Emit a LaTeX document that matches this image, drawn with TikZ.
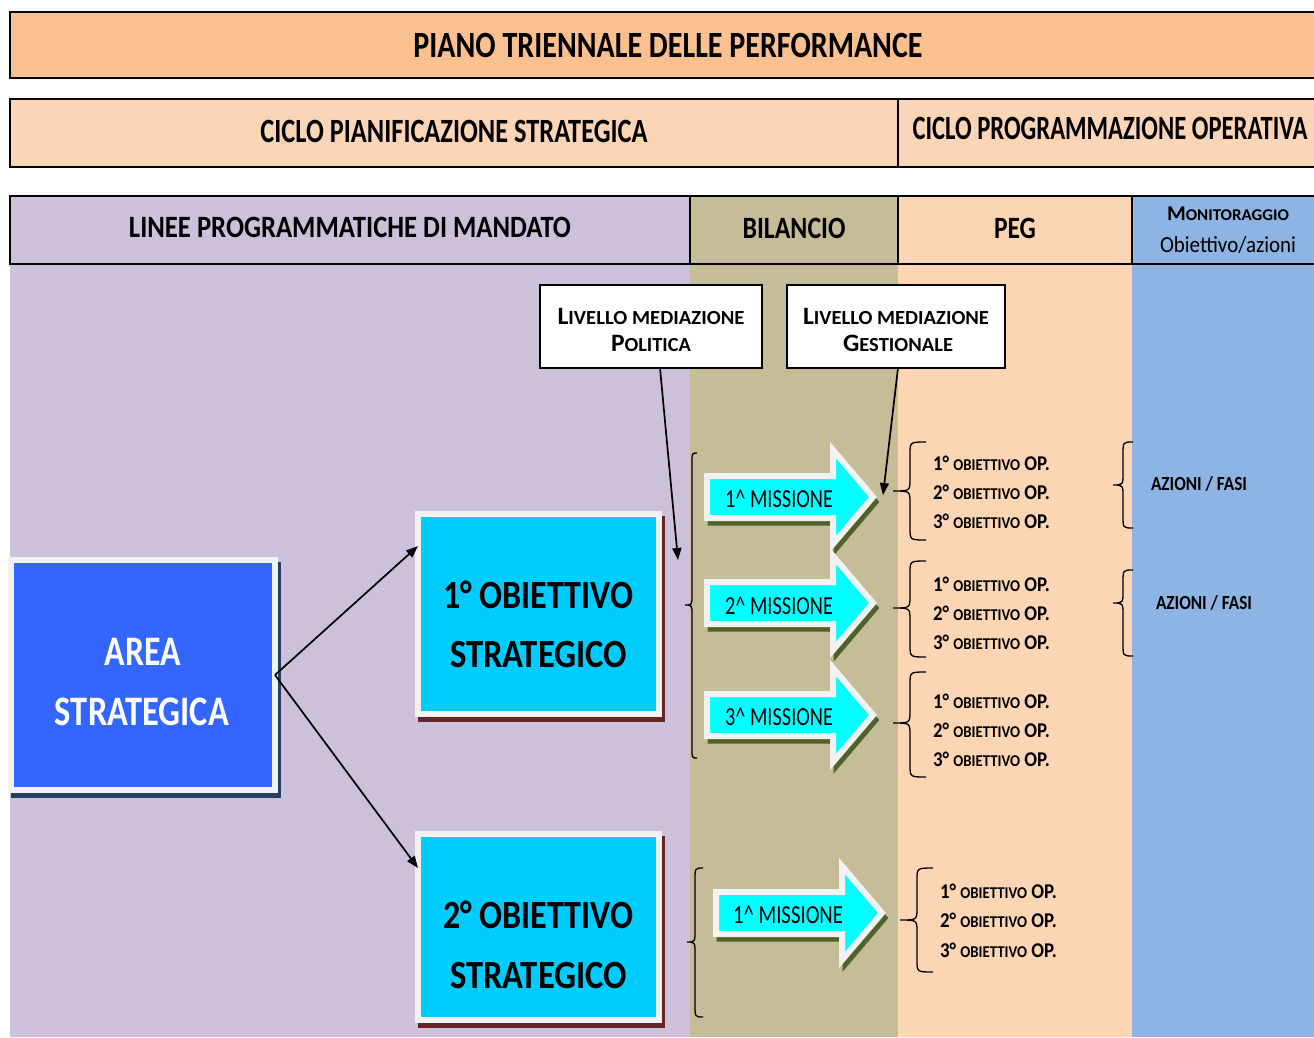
\documentclass[tikz,border=0pt]{standalone}
\usepackage{fontspec}
\setmainfont{Carlito}
\usetikzlibrary{arrows.meta,shadows}
\definecolor{cTitle}{HTML}{FAC090}
\definecolor{cRow}{HTML}{FBD5B5}
\definecolor{cPurp}{HTML}{CCC0DA}
\definecolor{cOlive}{HTML}{C4BD97}
\definecolor{cPeach}{HTML}{FCD5B4}
\definecolor{cBlue}{HTML}{8DB4E2}
\definecolor{cArea}{HTML}{3366FF}
\definecolor{cObj}{HTML}{00CCFF}
\definecolor{cMis}{HTML}{00FFFF}
\definecolor{cFrame}{HTML}{F2F2F2}
\definecolor{cObjSh}{HTML}{632523}
\definecolor{cAreaSh}{HTML}{243F60}
\definecolor{cMisSh}{HTML}{4F6228}
% text fitted to a width (pt), at a size (pt)
\newcommand\fw[3]{\resizebox{#1pt}{\height}{\fontsize{#2}{#2}\selectfont #3}}
\newcommand\scp[2]{{\fontsize{#1}{#1}\selectfont #2}}
% manual curly brace opening to the right: x, ytop, ybot, ytip, depth, tip, curve
\newcommand\mybrace[7]{\draw[brc] (#1,#2) .. controls ({#1-#5},#2) .. ({#1-#5},{#2+#7}) -- ({#1-#5},{#4-#7}) .. controls ({#1-#5},#4) .. ({#1-#5-#6},#4) .. controls ({#1-#5},#4) .. ({#1-#5},{#4+#7}) -- ({#1-#5},{#3-#7}) .. controls ({#1-#5},#3) .. (#1,#3);}
% mission block arrow: x0, yc
\newcommand\misarrow[2]{%
 \path[misshadow,shift={(3,5)}] (#1,{#2-21}) -- ({#1+126},{#2-21}) -- ({#1+126},{#2-47}) -- ({#1+166},#2) -- ({#1+126},{#2+47}) -- ({#1+126},{#2+21}) -- (#1,{#2+21}) -- cycle;
 \path[misframe] (#1,{#2-21}) -- ({#1+126},{#2-21}) -- ({#1+126},{#2-47}) -- ({#1+166},#2) -- ({#1+126},{#2+47}) -- ({#1+126},{#2+21}) -- (#1,{#2+21}) -- cycle;}
\begin{document}
\begin{tikzpicture}[x=1pt,y=-1pt,
 cell/.style={draw=black, line width=2pt, inner sep=0pt, outer sep=0pt},
 txt/.style={inner sep=0pt, outer sep=0pt},
 lvbox/.style={draw=black, line width=1.5pt, fill=white, inner sep=0pt, outer sep=0pt},
 objbox/.style={fill=cObj, draw=cFrame, line width=6pt, inner sep=0pt, outer sep=0pt,
   general shadow={fill=cObjSh, draw=cObjSh, line width=6pt, shadow xshift=3pt, shadow yshift=-5pt}},
 areabox/.style={fill=cArea, draw=cFrame, line width=6pt, inner sep=0pt, outer sep=0pt,
   general shadow={fill=cAreaSh, draw=cAreaSh, line width=6pt, shadow xshift=3pt, shadow yshift=-5pt}},
 conn/.style={line width=1.7pt, -{Triangle[length=12pt,width=9pt]}},
 brc/.style={line width=1.3pt},
 misframe/.style={fill=cMis, draw=cFrame, line width=6pt},
 misshadow/.style={fill=cMisSh, draw=cMisSh, line width=5pt}]
\useasboundingbox (0,0) rectangle (1314,1037);
\fill[white] (0,0) rectangle (1314,1037);
% body columns
\fill[cPurp] (10,264) rectangle (690,1037);
\fill[cOlive] (690,264) rectangle (898,1037);
\fill[cPeach] (898,264) rectangle (1132,1037);
\fill[cBlue] (1132,264) rectangle (1320,1037);
% title rows
\node[cell, fill=cTitle, minimum width=1316pt, minimum height=66pt] (title) at (668,45)
  {\fw{509}{37}{\bfseries PIANO TRIENNALE DELLE PERFORMANCE}};
\node[cell, line width=1.5pt, fill=cRow, minimum width=888pt, minimum height=68pt, text depth=4pt] (cps) at (454,133)
  {\fw{387}{34}{\bfseries CICLO PIANIFICAZIONE STRATEGICA}};
\node[cell, line width=1.5pt, fill=cRow, minimum width=424pt, minimum height=68pt] (cpo) at (1110,133) {};
\node[txt] (cpot) at (1110,128) {\fw{395}{34}{\bfseries CICLO PROGRAMMAZIONE OPERATIVA}};
% column headers
\node[cell, fill=cPurp, minimum width=680pt, minimum height=68pt, text depth=6pt] (linee) at (350,230)
  {\fw{442}{31}{\bfseries LINEE PROGRAMMATICHE DI MANDATO}};
\node[cell, fill=cOlive, minimum width=208pt, minimum height=68pt, text depth=4pt] (bil) at (794,230)
  {\fw{103}{31}{\bfseries BILANCIO}};
\node[cell, fill=cPeach, minimum width=234pt, minimum height=68pt, text depth=4pt] (peg) at (1015,230)
  {\fw{42}{31}{\bfseries PEG}};
\node[cell, fill=cBlue, minimum width=192pt, minimum height=68pt] (mon) at (1228,230) {};
\node[txt, anchor=base] (mon1) at (1228,220) {\fw{122}{21}{\bfseries M\scp{16.5}{ONITORAGGIO}}};
\node[txt, anchor=base] (mon2) at (1228,252) {\fw{136}{23}{Obiettivo/azioni}};
% mediation boxes
\node[lvbox, minimum width=222pt, minimum height=83pt] (pol) at (651,326.5) {};
\node[txt, anchor=base] (pol1) at (651,324.5) {\fw{187}{25}{\bfseries L\scp{20}{IVELLO MEDIAZIONE}}};
\node[txt, anchor=base] (pol2) at (651,351.5) {\fw{80}{25}{\bfseries P\scp{20}{OLITICA}}};
\node[lvbox, minimum width=218pt, minimum height=83pt] (gest) at (896,326.5) {};
\node[txt, anchor=base] (gest1) at (896,324.5) {\fw{186}{25}{\bfseries L\scp{20}{IVELLO MEDIAZIONE}}};
\node[txt, anchor=base] (gest2) at (898,351.5) {\fw{110}{25}{\bfseries G\scp{20}{ESTIONALE}}};
% area strategica
\node[areabox, minimum width=264pt, minimum height=230pt] (area) at (143,675) {};
\node[txt, anchor=base, text=white] (area1) at (143,665) {\fw{76}{42}{\bfseries AREA}};
\node[txt, anchor=base, text=white] (area2) at (142,725) {\fw{174}{42}{\bfseries STRATEGICA}};
% strategic objectives
\node[objbox, minimum width=241pt, minimum height=200pt] (obj1) at (538.5,614) {};
\node[txt, anchor=base] (obj1a) at (538,608) {\fw{190}{40}{\bfseries 1° OBIETTIVO}};
\node[txt, anchor=base] (obj1b) at (538.5,667) {\fw{177}{40}{\bfseries STRATEGICO}};
\node[objbox, minimum width=241pt, minimum height=186pt] (obj2) at (538.5,927) {};
\node[txt, anchor=base] (obj2a) at (538,928) {\fw{190}{40}{\bfseries 2° OBIETTIVO}};
\node[txt, anchor=base] (obj2b) at (538.5,988) {\fw{177}{40}{\bfseries STRATEGICO}};
% connectors
\coordinate (polend) at (678,560);
\coordinate (gestend) at (883,495);
\draw[conn] (area.east) -- ([yshift=-32pt]obj1.north west);
\draw[conn] (area.east) -- ([yshift=-34pt]obj2.north west);
% mission arrows
\misarrow{707}{497}
\misarrow{707}{603}
\misarrow{707}{715}
\misarrow{716}{913}
\node[txt, anchor=base] (m1) at (779,507) {\fw{108}{26}{1\textasciicircum{} MISSIONE}};
\node[txt, anchor=base] (m2) at (779,614) {\fw{108}{26}{2\textasciicircum{} MISSIONE}};
\node[txt, anchor=base] (m3) at (779,725) {\fw{108}{26}{3\textasciicircum{} MISSIONE}};
\node[txt, anchor=base] (m4) at (788,923) {\fw{110}{26}{1\textasciicircum{} MISSIONE}};
\draw[conn] ([xshift=9pt]pol.south) -- (polend);
\draw[conn] ([xshift=2pt]gest.south) -- (gestend);
% braces
\mybrace{697}{453}{758}{605}{5}{7}{10}
\mybrace{703}{868}{1017}{942}{8}{8}{12}
\mybrace{926}{442}{540}{491}{16}{17}{12}
\mybrace{926}{561}{657}{608}{16}{17}{12}
\mybrace{926}{672}{777}{723}{16}{17}{12}
\mybrace{933}{868}{972}{920}{16}{17}{12}
\mybrace{1133}{442}{528}{485}{10}{10}{12}
\mybrace{1133}{570}{656}{603}{10}{10}{12}
% operational objectives
\foreach \n/\yy in {a/470.5,b/591.5,c/708.5}{
  \node[txt, anchor=base west] (op\n1) at (933,\yy) {\fw{117}{21}{\bfseries 1° \scp{16.5}{OBIETTIVO} OP.}};
  \node[txt, anchor=base west] (op\n2) at (933,\yy+29) {\fw{117}{21}{\bfseries 2° \scp{16.5}{OBIETTIVO} OP.}};
  \node[txt, anchor=base west] (op\n3) at (933,\yy+58) {\fw{117}{21}{\bfseries 3° \scp{16.5}{OBIETTIVO} OP.}};
}
\node[txt, anchor=base west] (opd1) at (940,898.5) {\fw{117}{21}{\bfseries 1° \scp{16.5}{OBIETTIVO} OP.}};
\node[txt, anchor=base west] (opd2) at (940,927.5) {\fw{117}{21}{\bfseries 2° \scp{16.5}{OBIETTIVO} OP.}};
\node[txt, anchor=base west] (opd3) at (940,957) {\fw{117}{21}{\bfseries 3° \scp{16.5}{OBIETTIVO} OP.}};
% actions
\node[txt, anchor=base west] (az1) at (1151,490.5) {\fw{96}{20}{\bfseries AZIONI / FASI}};
\node[txt, anchor=base west] (az2) at (1156,609.5) {\fw{96}{20}{\bfseries AZIONI / FASI}};
\end{tikzpicture}
\end{document}
